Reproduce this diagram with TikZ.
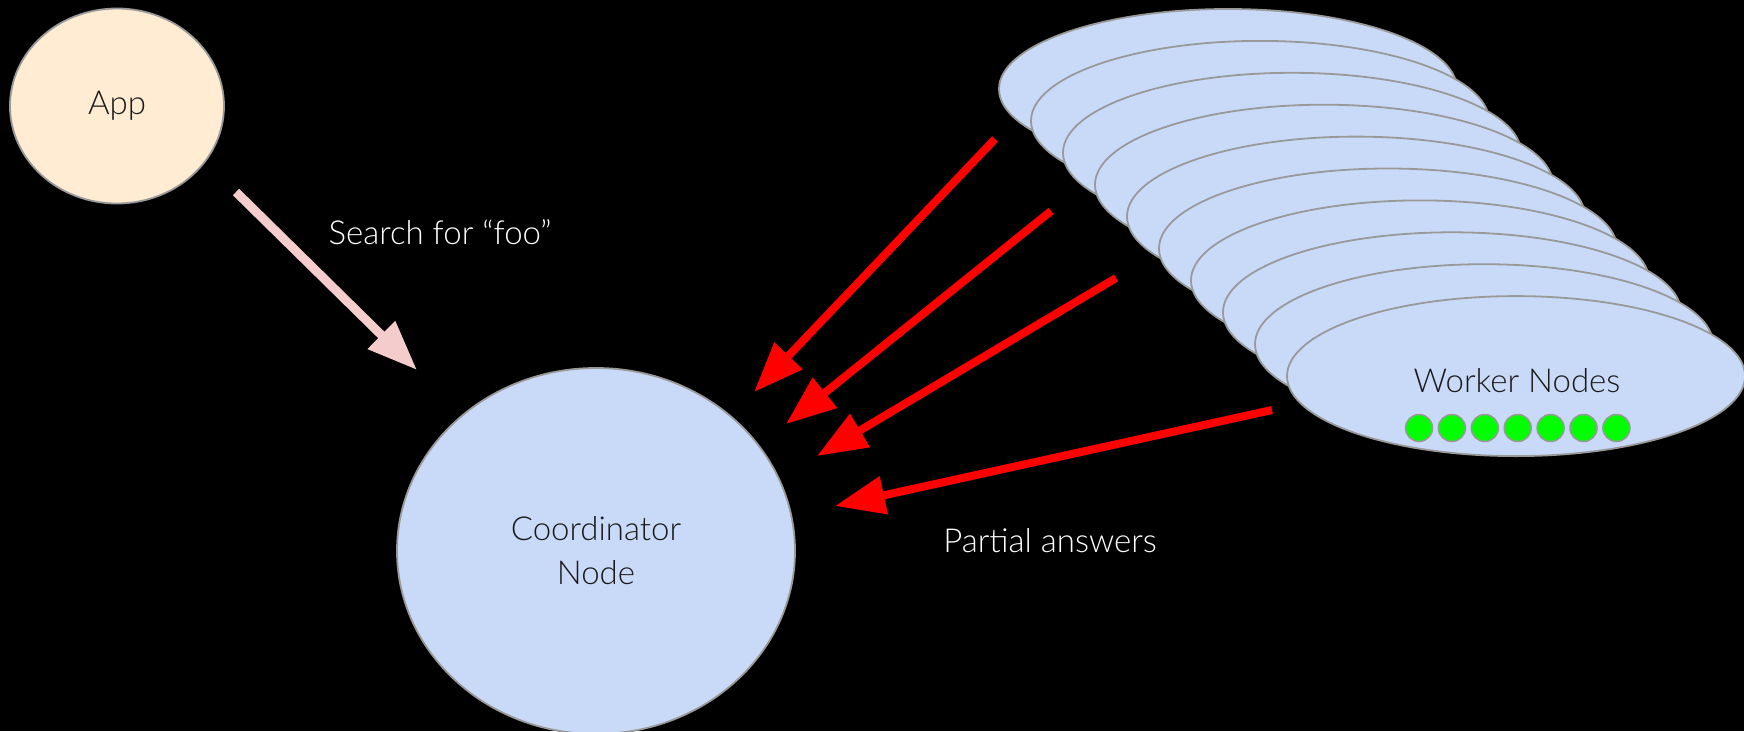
\documentclass[tikz,border=0pt]{standalone}
\usepackage{fontspec}
\setmainfont{Lato}[UprightFont=* Light]
\usetikzlibrary{shapes.geometric,arrows.meta}
\definecolor{appfill}{HTML}{FFECD3}
\definecolor{nodefill}{HTML}{C9DAF8}
\definecolor{edgegrey}{HTML}{999999}
\definecolor{pinkarrow}{HTML}{F4CCCC}
\definecolor{redarrow}{HTML}{FF0000}
\definecolor{dotgreen}{HTML}{00FF00}
\definecolor{darktext}{HTML}{1A1A1A}
\tikzset{
  blob/.style={ellipse, draw=edgegrey, line width=1.8pt, inner sep=0pt, text=darktext},
  worker/.style={blob, fill=nodefill, minimum width=458pt, minimum height=160pt},
  dot/.style={circle, draw=edgegrey, fill=dotgreen, line width=1.5pt, minimum size=27pt, inner sep=0pt},
  lbl/.style={text=white, inner sep=0pt},
  txt/.style={font=\fontsize{33}{44}\selectfont},
  req/.style={line width=9pt, draw=pinkarrow, -{Triangle[length=50pt,width=37pt]}},
  resp/.style={line width=8pt, draw=redarrow, -{Triangle[length=50pt,width=37pt]}},
}
\begin{document}
\begin{tikzpicture}[x=1pt,y=-1pt,txt]
\useasboundingbox (0,0) rectangle (1744,731);
\fill[black] (0,0) rectangle (1744,731);
% App
\node[blob, fill=appfill, minimum width=214pt, minimum height=195pt] (app) at (117,106) {App};
% Coordinator
\node[blob, fill=nodefill, minimum width=398pt, minimum height=366pt, align=center] (coord) at (596,551) {Coordinator\\Node};
% Worker stack
\foreach \i in {0,...,9}{
  \node[worker] (w\i) at ({1228+32*\i},{89+31.9*\i}) {};
}
\node[text=darktext, inner sep=0pt] (wlabel) at (1517,381) {Worker Nodes};
\foreach \k in {0,...,6}{
  \node[dot] (d\k) at ({1419+32.9*\k},428) {};
}
% Labels
\node[lbl] (search) at (440,232) {Search for “foo”};
\node[lbl] (partial) at (1050,541) {Partial answers};
% Arrow endpoints
\coordinate (ps) at (236,192);
\coordinate (pt) at (417,370);
\coordinate (r1s) at (995,139);
\coordinate (r1t) at (754,392);
\coordinate (r2s) at (1051,211);
\coordinate (r2t) at (786,424);
\coordinate (r3s) at (1116,278);
\coordinate (r3t) at (817,456);
\coordinate (r4s) at (1272,410);
\coordinate (r4t) at (835,506);
\draw[req] (ps) -- (pt);
\draw[resp] (r1s) -- (r1t);
\draw[resp] (r2s) -- (r2t);
\draw[resp] (r3s) -- (r3t);
\draw[resp] (r4s) -- (r4t);
\end{tikzpicture}
\end{document}
